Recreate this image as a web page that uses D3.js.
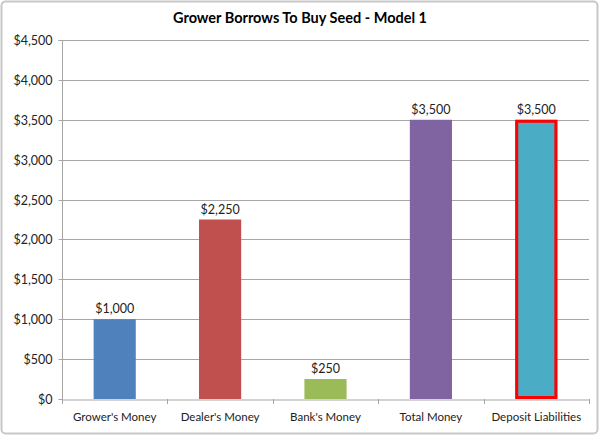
<!DOCTYPE html>
<html><head><meta charset="utf-8">
<script src="https://cdn.jsdelivr.net/npm/d3@7"></script>
<style>body{margin:0;background:#fff}svg{display:block}</style>
</head><body>
<svg id="c" width="600" height="437"></svg>
<script>
const title = "Grower Borrows To Buy Seed - Model 1";
const categories = ["Grower's Money","Dealer's Money","Bank's Money","Total Money","Deposit Liabilities"];
const values = [1000, 2250, 250, 3500, 3500];
const colors = ["#4F81BD","#C0504D","#9BBB59","#8064A2","#4BACC6"];
const yTicks = [0,500,1000,1500,2000,2500,3000,3500,4000,4500];
const highlighted = ["Deposit Liabilities"];

const svg = d3.select("#c");
const font = "Lato, 'Open Sans', sans-serif";
const m = {l:62, r:589, t:40, b:399};
const gridColor = "#a6a6a6";

svg.append("rect").attr("x",1.5).attr("y",1.5).attr("width",596).attr("height",432)
  .attr("rx",4).attr("fill","#fff").attr("stroke","#c8c8c8").attr("stroke-width",2);

svg.append("text").attr("x",300).attr("y",23).attr("text-anchor","middle")
  .attr("font-family",font).attr("font-weight","bold").attr("font-size",14.5).attr("fill","#000").text(title);

const x = d3.scaleBand().domain(categories).range([m.l,m.r]).paddingInner(0.6).paddingOuter(0.3);
const xOuter = d3.scaleBand().domain(categories).range([m.l,m.r]);
const y = d3.scaleLinear().domain([0,4500]).range([m.b,m.t]);
const fmt = v => "$" + d3.format(",")(v);

// gridlines
svg.append("g").selectAll("line").data(yTicks.filter(d=>d>0)).join("line")
  .attr("x1",m.l).attr("x2",m.r).attr("y1",d=>Math.round(y(d))+0.5).attr("y2",d=>Math.round(y(d))+0.5)
  .attr("stroke",gridColor).attr("stroke-width",1);

// y axis
const ya = svg.append("g").attr("transform",`translate(${m.l+0.5},0)`)
  .call(d3.axisLeft(y).tickValues(yTicks).tickFormat(fmt).tickSize(4).tickPadding(6));
ya.select(".domain").attr("stroke",gridColor).attr("d",`M-4,${m.t+0.5}H0V${m.b+0.5}`);
ya.selectAll(".tick line").attr("stroke",gridColor);
ya.selectAll(".tick text").attr("font-family",font).attr("font-size",12.5).attr("fill","#222");
ya.selectAll(".tick").attr("transform",d=>`translate(0,${Math.round(y(d))+0.5})`);

// bars
svg.append("g").selectAll("rect").data(categories).join("rect")
  .attr("x",d=>x(d)).attr("width",x.bandwidth())
  .attr("y",(d,i)=>y(values[i])).attr("height",(d,i)=>y(0)-y(values[i]))
  .attr("fill",(d,i)=>colors[i]);

// highlighted outline
svg.append("g").selectAll("rect").data(highlighted).join("rect")
  .attr("x",d=>x(d)+1.5).attr("width",x.bandwidth()-3)
  .attr("y",d=>y(values[categories.indexOf(d)])+1.5)
  .attr("height",d=>y(0)-y(values[categories.indexOf(d)])-3)
  .attr("fill","none").attr("stroke","#FF0000").attr("stroke-width",3);

// value labels
svg.append("g").selectAll("text").data(categories).join("text")
  .attr("x",d=>x(d)+x.bandwidth()/2).attr("y",(d,i)=>y(values[i])-6)
  .attr("text-anchor","middle").attr("font-family",font).attr("font-size",12.5).attr("fill","#222")
  .text((d,i)=>fmt(values[i]));

// x axis
const xa = svg.append("g").attr("transform",`translate(0,${m.b+0.5})`)
  .call(d3.axisBottom(xOuter).tickSize(0).tickPadding(13));
xa.select(".domain").attr("stroke",gridColor);
xa.selectAll(".tick text").attr("font-family",font).attr("font-size",11.5).attr("fill","#222");
svg.append("g").selectAll("line").data(categories.concat(["end"])).join("line")
  .attr("x1",(d,i)=>Math.round(m.l+i*xOuter.step())+0.5).attr("x2",(d,i)=>Math.round(m.l+i*xOuter.step())+0.5)
  .attr("y1",m.b).attr("y2",m.b+5).attr("stroke",gridColor);
</script>
</body></html>
